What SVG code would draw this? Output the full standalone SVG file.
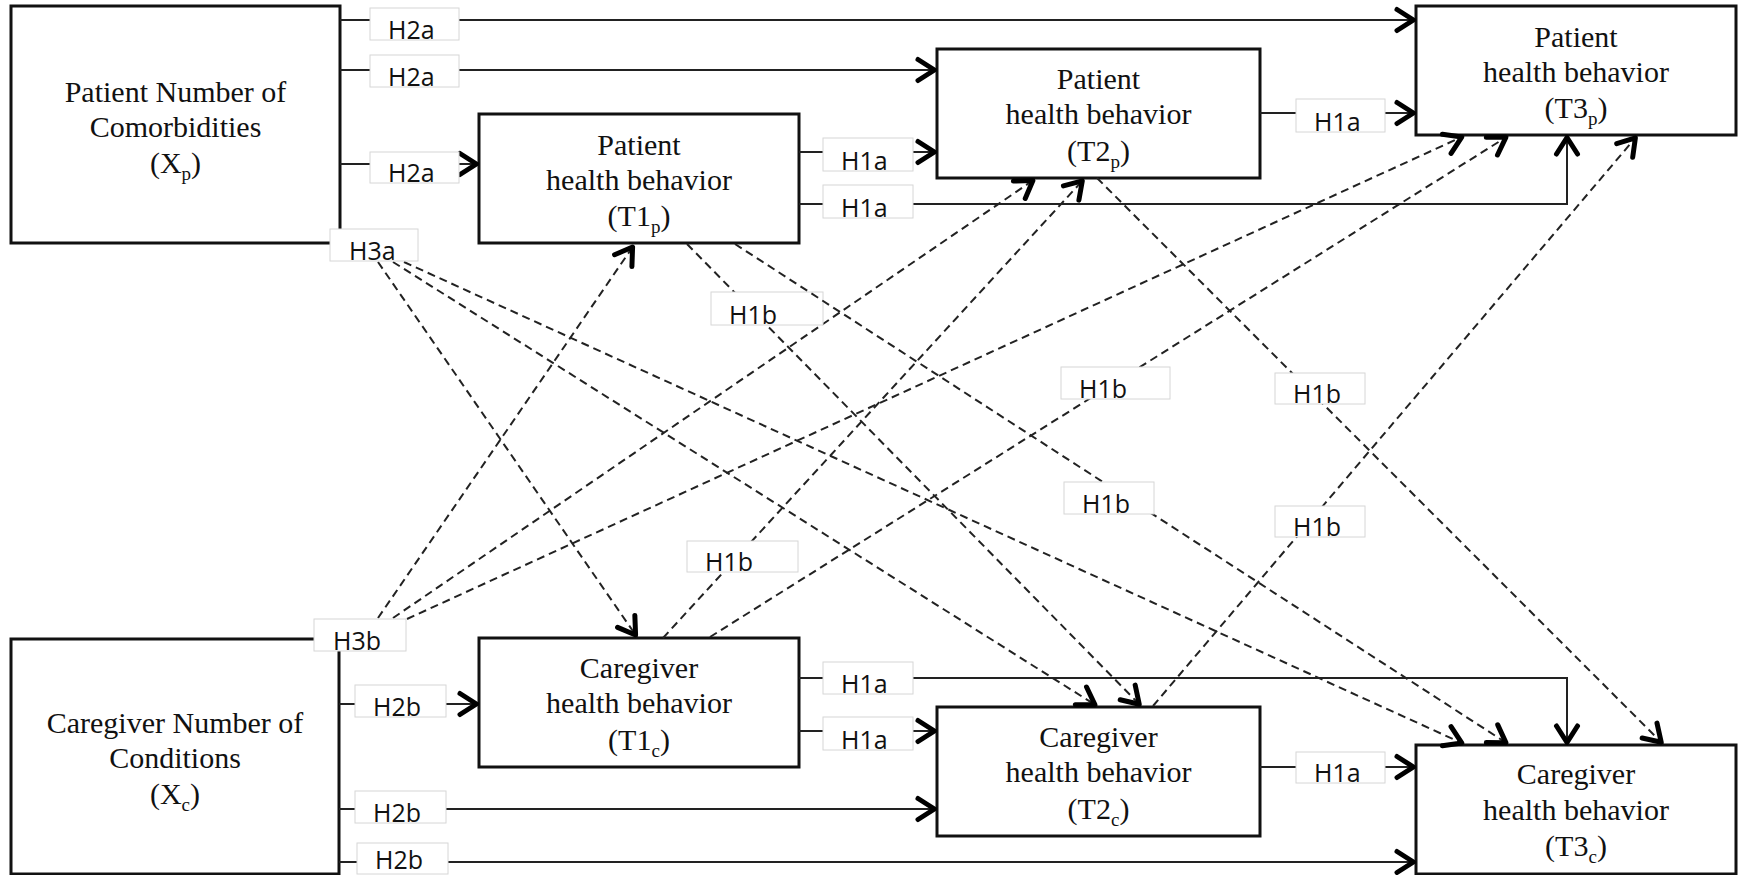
<svg xmlns="http://www.w3.org/2000/svg" width="1738" height="875" viewBox="0 0 1738 875">
  <style>
    .box { fill: #fff; stroke: #111; stroke-width: 3; }
    .ntext { font-family: "Liberation Serif", "Times New Roman", serif; font-size: 30px; fill: #111; text-anchor: middle; }
    .sub { font-size: 19px; }
    .solid { fill: none; stroke: #222; stroke-width: 2; marker-end: url(#arr); }
    .dash { fill: none; stroke: #222; stroke-width: 2; stroke-dasharray: 8 5; marker-end: url(#arr); }
    .lbl { fill: #fff; stroke: #d6d6d6; stroke-width: 1; }
    .ltext { font-family: "Open Sans", "DejaVu Sans", sans-serif; font-size: 25px; fill: #111; }
  </style>
  <defs>
    <marker id="arr" markerUnits="userSpaceOnUse" markerWidth="30" markerHeight="30" viewBox="-24 -15 30 30" refX="0" refY="0" orient="auto" overflow="visible">
      <path d="M-19,-10.5 L-2.5,0 L-19,10.5" fill="none" stroke="#000" stroke-width="5" stroke-linejoin="round" stroke-linecap="round" stroke-dasharray="none"/>
    </marker>
  </defs>

  <rect width="1738" height="875" fill="#fff"/>

  <!-- Nodes -->
  <g id="node-xp">
    <rect class="box" x="11" y="6" width="329" height="237"/>
    <text class="ntext" x="175.5" y="102">Patient Number of</text>
    <text class="ntext" x="175.5" y="137">Comorbidities</text>
    <text class="ntext" x="175.5" y="173">(X<tspan class="sub" dy="7">p</tspan><tspan dy="-7">)</tspan></text>
  </g>
  <g id="node-t1p">
    <rect class="box" x="479" y="114" width="320" height="129"/>
    <text class="ntext" x="639" y="155">Patient</text>
    <text class="ntext" x="639" y="190">health behavior</text>
    <text class="ntext" x="639" y="226">(T1<tspan class="sub" dy="7">p</tspan><tspan dy="-7">)</tspan></text>
  </g>
  <g id="node-t2p">
    <rect class="box" x="937" y="49" width="323" height="129"/>
    <text class="ntext" x="1098.5" y="89">Patient</text>
    <text class="ntext" x="1098.5" y="124">health behavior</text>
    <text class="ntext" x="1098.5" y="161">(T2<tspan class="sub" dy="7">p</tspan><tspan dy="-7">)</tspan></text>
  </g>
  <g id="node-t3p">
    <rect class="box" x="1416" y="6" width="320" height="129"/>
    <text class="ntext" x="1576" y="47">Patient</text>
    <text class="ntext" x="1576" y="82">health behavior</text>
    <text class="ntext" x="1576" y="118">(T3<tspan class="sub" dy="7">p</tspan><tspan dy="-7">)</tspan></text>
  </g>
  <g id="node-xc">
    <rect class="box" x="11" y="639" width="328" height="235"/>
    <text class="ntext" x="175" y="733">Caregiver Number of</text>
    <text class="ntext" x="175" y="768">Conditions</text>
    <text class="ntext" x="175" y="804">(X<tspan class="sub" dy="7">c</tspan><tspan dy="-7">)</tspan></text>
  </g>
  <g id="node-t1c">
    <rect class="box" x="479" y="638" width="320" height="129"/>
    <text class="ntext" x="639" y="678">Caregiver</text>
    <text class="ntext" x="639" y="713">health behavior</text>
    <text class="ntext" x="639" y="750">(T1<tspan class="sub" dy="7">c</tspan><tspan dy="-7">)</tspan></text>
  </g>
  <g id="node-t2c">
    <rect class="box" x="937" y="707" width="323" height="129"/>
    <text class="ntext" x="1098.5" y="747">Caregiver</text>
    <text class="ntext" x="1098.5" y="782">health behavior</text>
    <text class="ntext" x="1098.5" y="819">(T2<tspan class="sub" dy="7">c</tspan><tspan dy="-7">)</tspan></text>
  </g>
  <g id="node-t3c">
    <rect class="box" x="1416" y="745" width="320" height="129"/>
    <text class="ntext" x="1576" y="784">Caregiver</text>
    <text class="ntext" x="1576" y="820">health behavior</text>
    <text class="ntext" x="1576" y="856">(T3<tspan class="sub" dy="7">c</tspan><tspan dy="-7">)</tspan></text>
  </g>

  <!-- Connectors with their labels -->
  <g id="connectors">
    <!-- stability paths (solid) -->
    <path class="solid" d="M340,20 H1416"/>
    <rect class="lbl" x="370" y="8" width="89" height="32"/><text class="ltext" x="388" y="39">H2a</text>
    <path class="solid" d="M340,70 H937"/>
    <rect class="lbl" x="370" y="55" width="89" height="32"/><text class="ltext" x="388" y="86">H2a</text>
    <path class="solid" d="M340,164 H479"/>
    <rect class="lbl" x="370" y="152" width="89" height="31"/><text class="ltext" x="388" y="182">H2a</text>

    <path class="solid" d="M799,152 H937"/>
    <rect class="lbl" x="823" y="138" width="90" height="33"/><text class="ltext" x="841" y="170">H1a</text>
    <path class="solid" d="M799,204 H1567 V135"/>
    <rect class="lbl" x="823" y="185" width="90" height="33"/><text class="ltext" x="841" y="217">H1a</text>
    <path class="solid" d="M1260,113 H1416"/>
    <rect class="lbl" x="1296" y="99" width="89" height="33"/><text class="ltext" x="1314" y="131">H1a</text>

    <path class="solid" d="M339,704 H479"/>
    <rect class="lbl" x="355" y="685" width="91" height="32"/><text class="ltext" x="373" y="716">H2b</text>
    <path class="solid" d="M339,809 H937"/>
    <rect class="lbl" x="355" y="791" width="91" height="32"/><text class="ltext" x="373" y="822">H2b</text>
    <path class="solid" d="M339,862 H1416"/>
    <rect class="lbl" x="357" y="843" width="91" height="31"/><text class="ltext" x="375" y="869">H2b</text>

    <path class="solid" d="M799,678 H1567 V745"/>
    <rect class="lbl" x="823" y="662" width="90" height="32"/><text class="ltext" x="841" y="693">H1a</text>
    <path class="solid" d="M799,731 H937"/>
    <rect class="lbl" x="823" y="717" width="90" height="33"/><text class="ltext" x="841" y="749">H1a</text>
    <path class="solid" d="M1260,767 H1416"/>
    <rect class="lbl" x="1296" y="752" width="89" height="31"/><text class="ltext" x="1314" y="782">H1a</text>

    <!-- cross-lagged paths (dashed) -->
    <path class="dash" d="M378,262 L637,637"/>
    <path class="dash" d="M393,262 L1097,706"/>
    <path class="dash" d="M404,262 L1464,744"/>
    <rect class="lbl" x="330" y="229" width="88" height="32"/><text class="ltext" x="349" y="260">H3a</text>

    <path class="dash" d="M378,618 L634,245"/>
    <path class="dash" d="M393,618 L1035,179"/>
    <path class="dash" d="M407,619 L1464,136"/>
    <rect class="lbl" x="314" y="619" width="92" height="32"/><text class="ltext" x="333" y="650">H3b</text>

    <path class="dash" d="M687,244 L1141,706"/>
    <rect class="lbl" x="711" y="292" width="112" height="33"/><text class="ltext" x="729" y="324">H1b</text>
    <path class="dash" d="M735,244 L1508,744"/>
    <rect class="lbl" x="1064" y="482" width="90" height="32"/><text class="ltext" x="1082" y="513">H1b</text>
    <path class="dash" d="M1097,178 L1663,744"/>
    <rect class="lbl" x="1275" y="373" width="90" height="31"/><text class="ltext" x="1293" y="403">H1b</text>

    <path class="dash" d="M663,638 L1084,179"/>
    <rect class="lbl" x="687" y="541" width="111" height="31"/><text class="ltext" x="705" y="571">H1b</text>
    <path class="dash" d="M710,637 L1508,136"/>
    <rect class="lbl" x="1061" y="367" width="109" height="32"/><text class="ltext" x="1079" y="398">H1b</text>
    <path class="dash" d="M1153,706 L1637,136"/>
    <rect class="lbl" x="1275" y="506" width="90" height="31"/><text class="ltext" x="1293" y="536">H1b</text>
  </g>
</svg>
